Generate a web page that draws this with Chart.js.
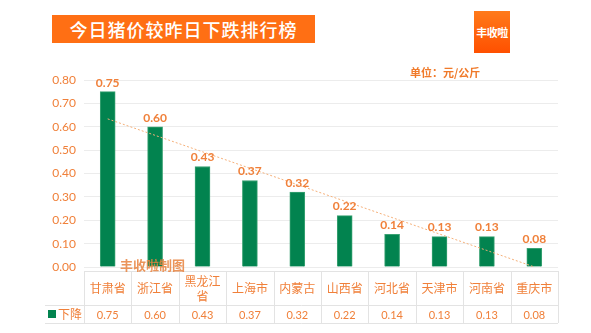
<!DOCTYPE html>
<html>
<head>
<meta charset="utf-8">
<script src="https://cdn.jsdelivr.net/npm/chart.js@4"></script>
<style>
  html, body { margin: 0; padding: 0; background: #fff; }
  #wrap { position: relative; width: 591px; height: 333px; }
  #title {
    position: absolute; left: 52px; top: 15px; width: 263px; height: 28px;
    background: #ff6f14; color: #fff; font: 500 18px "Noto Sans CJK SC", sans-serif;
    line-height: 28px; text-align: center; letter-spacing: 1px;
  }
  #logo {
    position: absolute; left: 474px; top: 11px; width: 36px; height: 42px;
    background: linear-gradient(#ff7a1a, #ff5000); color: #fff;
    font: bold 11px "Noto Sans CJK SC", sans-serif; line-height: 42px; text-align: center;
    letter-spacing: -0.5px;
  }
  #unit {
    position: absolute; left: 410px; top: 64px; color: #f07a2a;
    font: bold 11px "Noto Sans CJK SC", sans-serif;
  }
  canvas { position: absolute; left: 0; top: 0; }
</style>
</head>
<body>
<div id="wrap">
  <canvas id="c" width="591" height="333"></canvas>
  <div id="title">今日猪价较昨日下跌排行榜</div>
  <div id="logo">丰收啦</div>
  <div id="unit">单位：元/公斤</div>
</div>
<script>
const provinces = ["甘肃省", "浙江省", "黑龙江省", "上海市", "内蒙古", "山西省", "河北省", "天津市", "河南省", "重庆市"];
const drops = [0.75, 0.60, 0.43, 0.37, 0.32, 0.22, 0.14, 0.13, 0.13, 0.08];
const yTicks = [0, 0.1, 0.2, 0.3, 0.4, 0.5, 0.6, 0.7, 0.8];

const orange = "#f0803a";
const green = "#02834f";
const numFont = "Lato, 'Noto Sans CJK SC', sans-serif";
const cjkFont = "'Noto Sans CJK SC', sans-serif";

// linear trendline like Excel's
const n = drops.length;
const mx = (n + 1) / 2;
const my = drops.reduce((a, b) => a + b, 0) / n;
let sxy = 0, sxx = 0;
drops.forEach((v, i) => { sxy += (i + 1 - mx) * (v - my); sxx += (i + 1 - mx) ** 2; });
const slope = sxy / sxx;
const trend = drops.map((v, i) => my + slope * (i + 1 - mx));

const extras = {
  id: "extras",
  afterDatasetsDraw(chart) {
    const ctx = chart.ctx;
    const meta = chart.getDatasetMeta(0);
    ctx.save();
    ctx.fillStyle = orange;
    ctx.font = "bold 12px " + numFont;
    ctx.textAlign = "center";
    ctx.textBaseline = "bottom";
    meta.data.forEach((bar, i) => {
      ctx.fillText(drops[i].toFixed(2), bar.x, bar.y - 3);
    });
    ctx.restore();
  },
  afterDraw(chart) {
    const ctx = chart.ctx;
    const x = chart.scales.x;
    const area = chart.chartArea;
    const colW = (area.right - area.left) / provinces.length;
    const top = 271, mid = 305, bot = 323;
    ctx.save();
    ctx.strokeStyle = "#e3e3e3";
    ctx.lineWidth = 1;
    ctx.beginPath();
    ctx.moveTo(area.left, top + 0.5); ctx.lineTo(area.right, top + 0.5);
    ctx.moveTo(45, mid + 0.5); ctx.lineTo(area.right, mid + 0.5);
    ctx.moveTo(45, bot + 0.5); ctx.lineTo(area.right, bot + 0.5);
    for (let i = 0; i <= provinces.length; i++) {
      const px = Math.round(area.left + i * colW) + 0.5;
      ctx.moveTo(px, top); ctx.lineTo(px, bot);
    }
    ctx.stroke();

    ctx.fillStyle = orange;
    ctx.textAlign = "center";
    ctx.textBaseline = "middle";
    provinces.forEach((p, i) => {
      const cx = x.getPixelForValue(i);
      ctx.font = "12px " + cjkFont;
      if (p.length > 3) {
        ctx.fillText(p.slice(0, 3), cx, top + 10);
        ctx.fillText(p.slice(3), cx, top + 25);
      } else {
        ctx.fillText(p, cx, (top + mid) / 2);
      }
      ctx.font = "11px " + numFont;
      ctx.fillText(drops[i].toFixed(2), cx, (mid + bot) / 2 + 1);
    });

    // legend key in the table
    ctx.fillStyle = green;
    ctx.fillRect(48, 310, 8, 8);
    ctx.fillStyle = orange;
    ctx.font = "12px " + cjkFont;
    ctx.textAlign = "left";
    ctx.fillText("下降", 58, (mid + bot) / 2);

    // watermark
    ctx.globalAlpha = 0.85;
    ctx.font = "bold 13px " + cjkFont;
    ctx.fillStyle = "#e8823e";
    ctx.fillText("丰收啦制图", 120, 265);
    ctx.restore();
  }
};

new Chart(document.getElementById("c"), {
  data: {
    labels: provinces,
    datasets: [
      {
        type: "bar",
        label: "下降",
        data: drops,
        backgroundColor: green,
        borderColor: "#3aa273",
        borderWidth: 1,
        barThickness: 15,
        order: 2
      },
      {
        type: "line",
        label: "趋势",
        data: trend,
        borderColor: "#f5b07a",
        borderWidth: 1,
        borderDash: [2, 2],
        pointRadius: 0,
        fill: false,
        order: 1
      }
    ]
  },
  options: {
    responsive: false,
    animation: false,
    layout: { padding: { left: 0, right: 33, top: 80, bottom: 66 } },
    plugins: { legend: { display: false }, tooltip: { enabled: false } },
    scales: {
      x: {
        ticks: { display: false },
        grid: { display: false },
        border: { display: false },
        afterFit(s) { s.height = 0; }
      },
      y: {
        min: 0,
        max: 0.8,
        afterBuildTicks(s) { s.ticks = yTicks.map(v => ({ value: v })); },
        afterFit(s) { s.width = 84; },
        ticks: {
          color: orange,
          padding: 8,
          font: { family: numFont, size: 12 },
          callback: v => Number(v).toFixed(2)
        },
        grid: { color: "#ececec", drawTicks: false },
        border: { display: false }
      }
    }
  },
  plugins: [extras]
});
</script>
</body>
</html>
